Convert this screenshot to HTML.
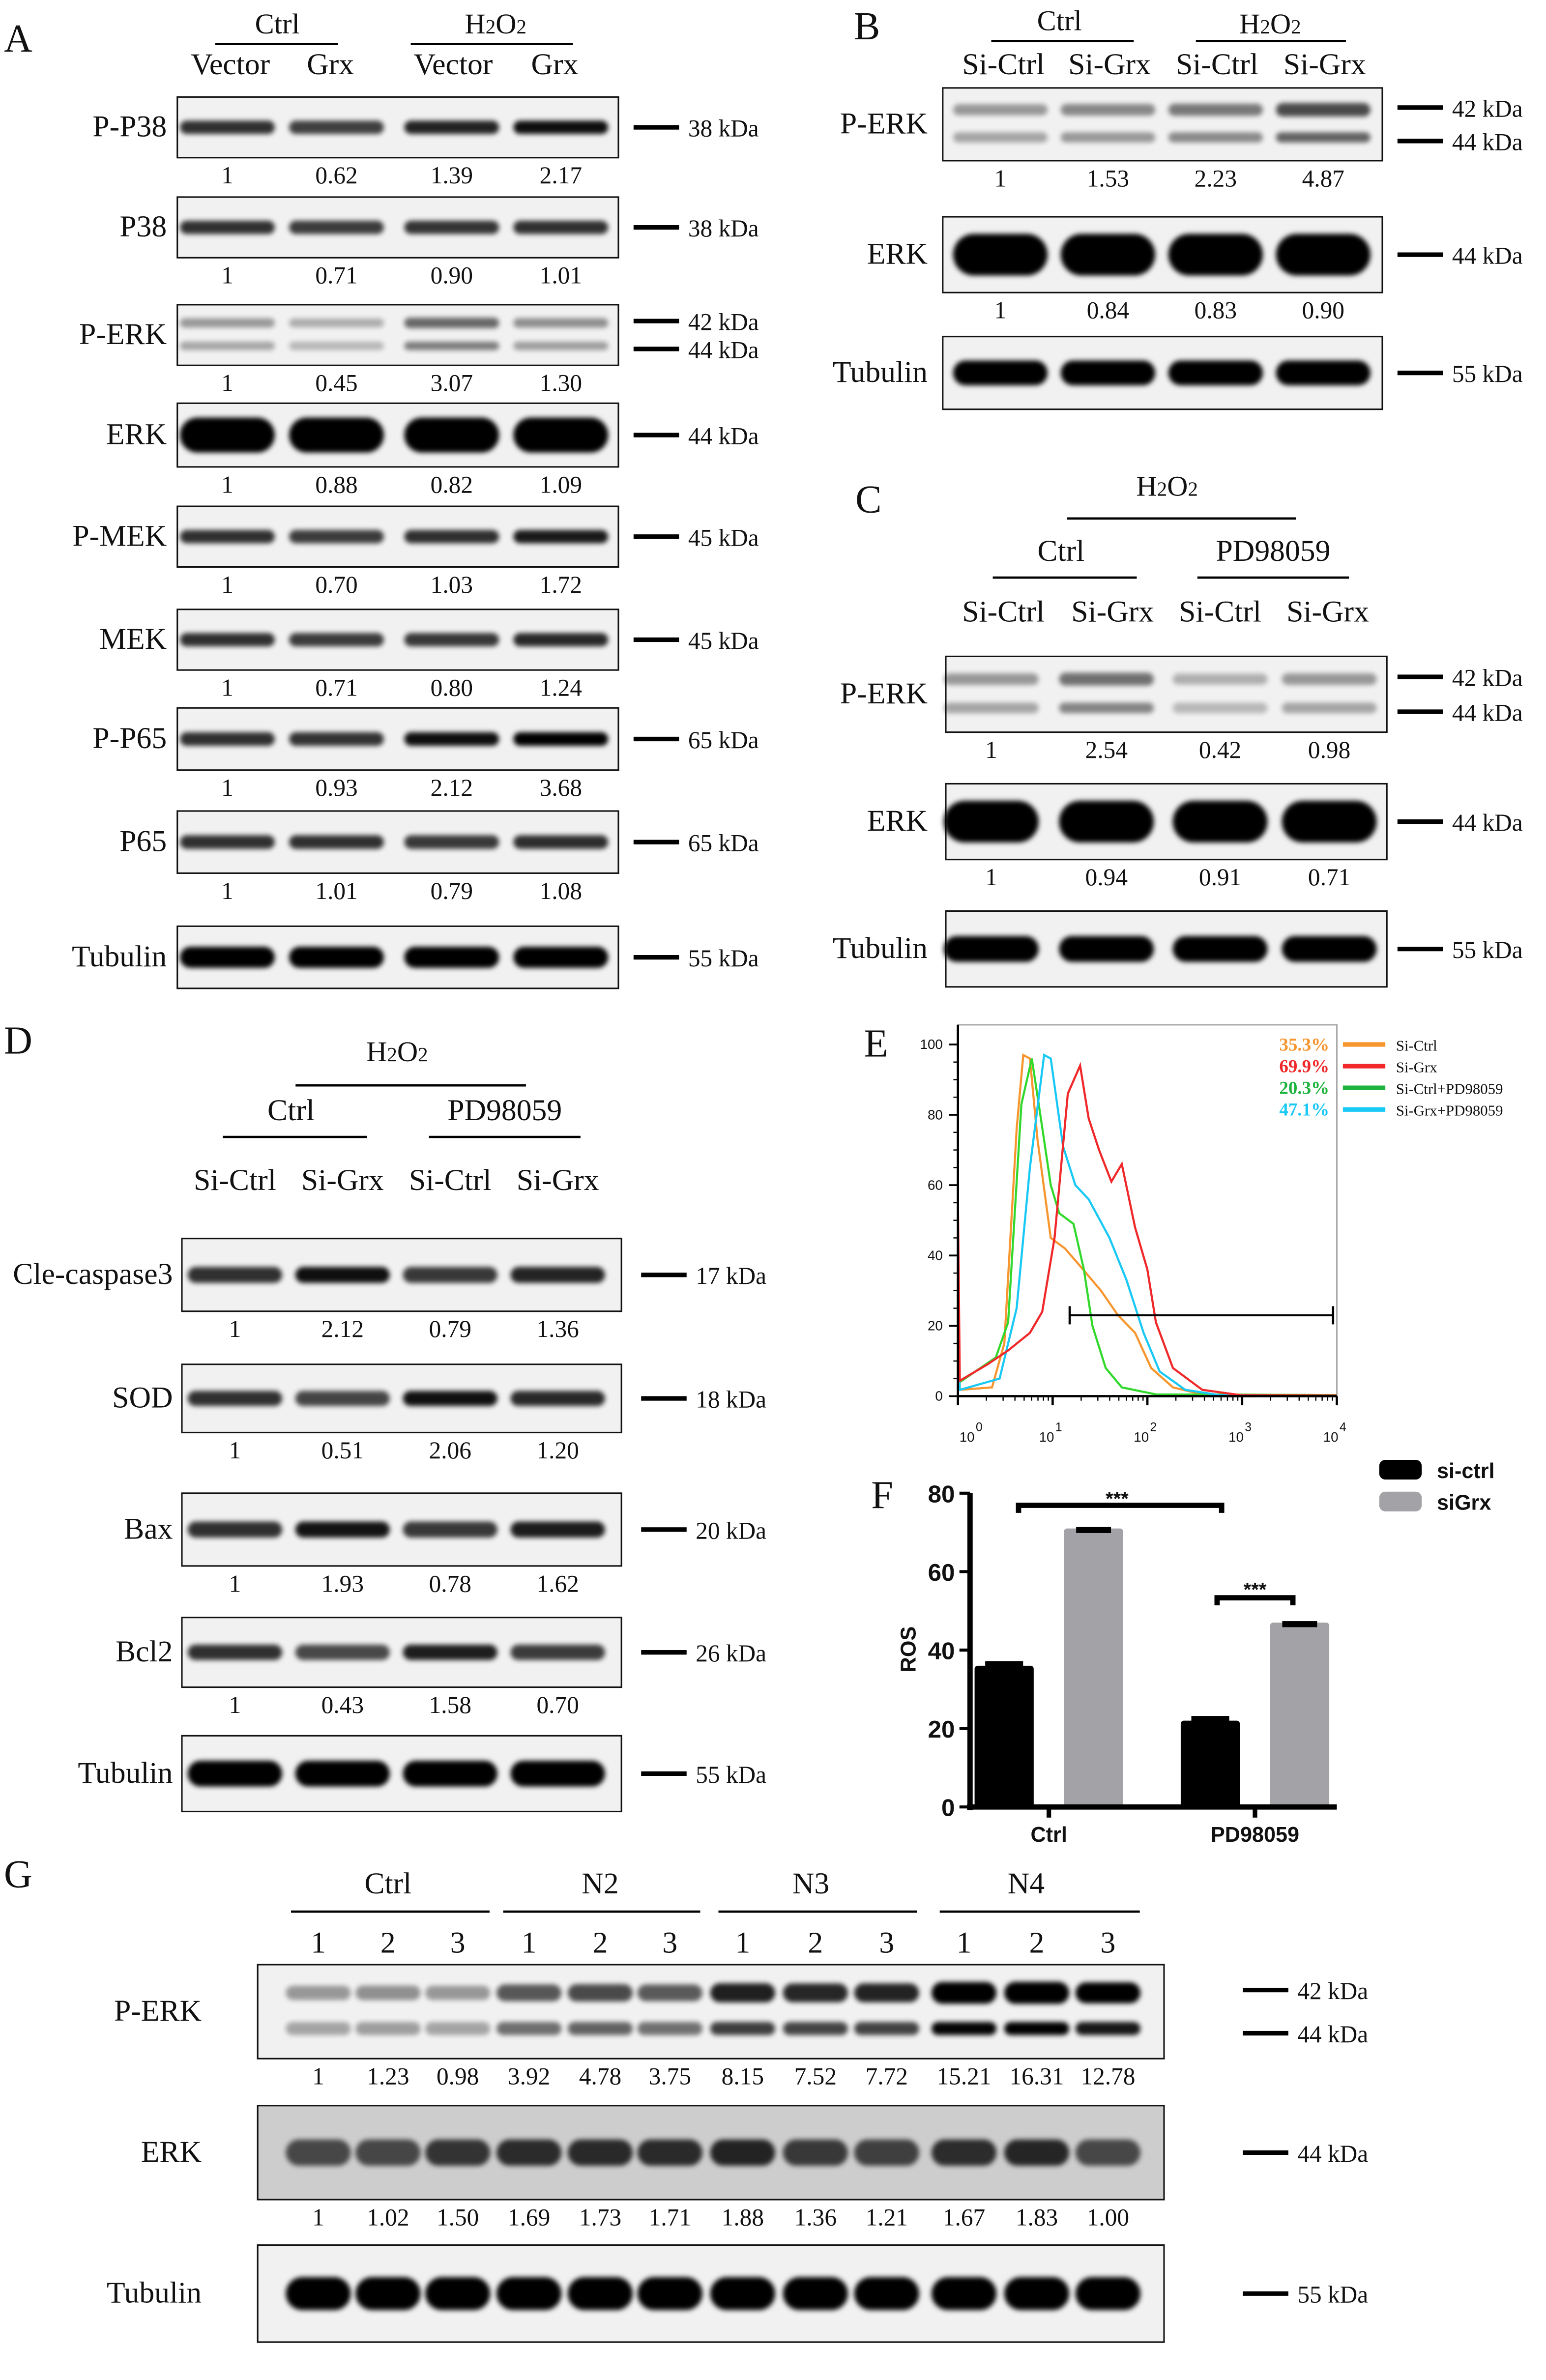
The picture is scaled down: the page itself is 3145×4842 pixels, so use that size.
<!DOCTYPE html>
<html><head><meta charset="utf-8"><style>
html,body{margin:0;padding:0;background:#fff}
svg{display:block}
text{font-family:"Liberation Serif",serif;fill:#111}
.sans{font-family:"Liberation Sans",sans-serif}
</style></head><body>
<svg id="fig" width="3145" height="4842" viewBox="0 0 1020 1570" preserveAspectRatio="none" xmlns="http://www.w3.org/2000/svg">
<defs><filter id="bl" x="-20%" y="-100%" width="140%" height="300%"><feGaussianBlur stdDeviation="1.6"/></filter></defs>
<g id="root"></g>
</svg>
<script>
// ---- data ----
const blotA=[["P-P38",64,104,[1,0.62,1.39,2.17],"38 kDa"],["P38",130,170,[1,0.71,0.90,1.01],"38 kDa"],["P-ERK",201,241,[1,0.45,3.07,1.30],"42 kDa|44 kDa"],["ERK",266,308,[1,0.88,0.82,1.09],"44 kDa"],["P-MEK",334,374,[1,0.70,1.03,1.72],"45 kDa"],["MEK",402,442,[1,0.71,0.80,1.24],"45 kDa"],["P-P65",467,508,[1,0.93,2.12,3.68],"65 kDa"],["P65",535,576,[1,1.01,0.79,1.08],"65 kDa"],["Tubulin",611,652,null,"55 kDa"]];
const blotB=[["P-ERK",58,106,[1,1.53,2.23,4.87],"42 kDa|44 kDa"],["ERK",143,193,[1,0.84,0.83,0.90],"44 kDa"],["Tubulin",222,270,null,"55 kDa"]];
const blotC=[["P-ERK",433,483,[1,2.54,0.42,0.98],"42 kDa|44 kDa"],["ERK",517,567,[1,0.94,0.91,0.71],"44 kDa"],["Tubulin",601,651,null,"55 kDa"]];
const blotD=[["Cle-caspase3",817,865,[1,2.12,0.79,1.36],"17 kDa"],["SOD",900,945,[1,0.51,2.06,1.20],"18 kDa"],["Bax",985,1033,[1,1.93,0.78,1.62],"20 kDa"],["Bcl2",1067,1113,[1,0.43,1.58,0.70],"26 kDa"],["Tubulin",1145,1195,null,"55 kDa"]];
const blotG=[["P-ERK",1296,1358,[1,1.23,0.98,3.92,4.78,3.75,8.15,7.52,7.72,15.21,16.31,12.78],"42 kDa|44 kDa"],["ERK",1389,1451,[1,1.02,1.50,1.69,1.73,1.71,1.88,1.36,1.21,1.67,1.83,1.00],"44 kDa"],["Tubulin",1481,1545,null,"55 kDa"]];
const histOrange=[[0,40],[0.02,1.8],[0.36,2.5],[0.49,15],[0.62,76],[0.69,97],[0.76,96],[0.84,73],[0.98,45],[1.13,42],[1.29,37],[1.51,30],[1.69,23],[1.87,18],[2.04,8],[2.27,2.5],[2.58,0.5],[4,0.3]];
const histGreen=[[0,30],[0.02,4],[0.4,11],[0.53,21],[0.67,83],[0.78,96],[0.87,80],[0.98,60],[1.07,52],[1.22,49],[1.33,36],[1.42,20],[1.56,8],[1.73,2.5],[2.09,0.5],[4,0.3]];
const histBlue=[[0,20],[0.02,1.8],[0.44,5],[0.62,25],[0.76,65],[0.91,97],[0.98,96],[1.11,71],[1.24,60],[1.38,56],[1.6,45],[1.78,33],[1.96,18],[2.13,7],[2.4,1.8],[2.76,0.3],[4,0.2]];
const histRed=[[0,55],[0.02,4.4],[0.31,9],[0.53,13],[0.76,18],[0.89,24],[1.02,45],[1.16,86],[1.29,94],[1.38,79],[1.49,70],[1.62,61],[1.73,66],[1.87,48],[2.0,36],[2.09,21],[2.27,8],[2.58,1.8],[2.98,0.3],[4,0.2]];
const rosCats=["Ctrl","PD98059"];
const rosSiCtrl=[36,22];
const rosSiGrx=[71,47];
const rosTicks=[0,20,40,60,80];
// ---- helpers ----
const NS="http://www.w3.org/2000/svg";const root=document.getElementById("root");
function el(t,a,p){const e=document.createElementNS(NS,t);for(const k in a)e.setAttribute(k,a[k]);(p||root).appendChild(e);return e;}
function tx(x,y,s,size,anchor,extra){const e=el("text",Object.assign({x:x,y:y,"font-size":size,"text-anchor":anchor||"middle"},extra||{}));e.textContent=s;

return e;}
function h2o2(x,y,size){const e=el("text",{x:x,y:y,"font-size":size,"text-anchor":"middle"});e.innerHTML='H<tspan font-size="'+(size*0.7)+'" dy="0">2</tspan>O<tspan font-size="'+(size*0.7)+'">2</tspan>';

}
function band(g,cx,cy,w,h,op){el("rect",{x:cx-w/2,y:cy-h/2,width:w,height:h,rx:h/2,fill:"#000",opacity:Math.min(1,op),filter:"url(#bl)"},g);}
function blot(rows,x0,x1,lanes,labX,kX,panel,numSize){
 rows.forEach((r,ri)=>{const [name,y0,y1,vals,kda]=r;const g=el("g",{});
 
 
 const gErk=(panel==="g"&&name==="ERK");
 el("rect",{x:x0,y:y0,width:x1-x0,height:y1-y0,fill:gErk?"#cdcdcd":"#f1f1f1",stroke:"#111","stroke-width":1},g);
 const h=y1-y0,lw=(x1-x0)/lanes.length*0.86;const dbl=kda.indexOf("|")>=0;
 lanes.forEach((lx,i)=>{let v=vals?vals[i]:3;const isTub=!vals;const isErk=name==="ERK";
  const op=0.5+0.3*Math.sqrt(v);
  if(dbl){const o=0.1+0.27*Math.sqrt(v);
   band(g,lx,y0+h*0.3,lw,h*0.18*(0.7+0.15*Math.sqrt(v)),o);
   band(g,lx,y0+h*0.68,lw,h*0.14,o*0.85);}
  else if(gErk) band(g,lx,y0+h*0.5,lw,h*0.28,0.45+0.2*v);
  else if(isErk) band(g,lx,y0+h*0.5,lw,h*0.55,1);
  else band(g,lx,y0+h*0.5,lw,isTub?h*0.34:h*0.22,isTub?1:op);
  if(vals){tx(lx,y1+17,i===0?"1":v.toFixed(2),numSize||16);}
 });
 tx(labX,y0+h/2+6,name,20,"end");
 const ks=kda.split("|");
 if(ks.length===1){el("rect",{x:kX,y:y0+h/2-1.5,width:30,height:3,fill:"#000"});tx(kX+36,y0+h/2+6,ks[0],16,"start");}
 else{el("rect",{x:kX,y:y0+h*0.27-1.5,width:30,height:3,fill:"#000"});tx(kX+36,y0+h*0.27+6,ks[0],16,"start");
  el("rect",{x:kX,y:y0+h*0.73-1.5,width:30,height:3,fill:"#000"});tx(kX+36,y0+h*0.73+6,ks[1],16,"start");}
 });}
[["A",12,34],["B",572,26],["C",573,338],["D",12,695],["E",578,697],["F",582,995],["G",12,1245]].forEach(p=>tx(p[1],p[2],p[0],26,"middle"));
function line(x1,y1,x2,y2,w){el("line",{x1:x1,y1:y1,x2:x2,y2:y2,stroke:"#000","stroke-width":w||1.5});}
// Panel A
tx(183,22,"Ctrl",19);line(142,29,223,29);h2o2(327,22,19);line(271,29,378,29);
["Vector","Grx","Vector","Grx"].forEach((s,i)=>tx([152,218,299,366][i],49,s,20));
blot(blotA,117,408,[150,222,298,370],110,418,"a");
// Panel B
tx(699,20,"Ctrl",19);line(654,27,748,27);h2o2(838,22,19);line(789,27,888,27);
["Si-Ctrl","Si-Grx","Si-Ctrl","Si-Grx"].forEach((s,i)=>tx([662,732,803,874][i],49,s,20));
blot(blotB,622,912,[660,731,802,873],612,922,"b");
// Panel C
h2o2(770,327,19);line(704,342,855,342);
tx(700,370,"Ctrl",20);line(655,381,750,381);tx(840,370,"PD98059",20);line(790,381,890,381);
["Si-Ctrl","Si-Grx","Si-Ctrl","Si-Grx"].forEach((s,i)=>tx([662,734,805,876][i],410,s,20));
blot(blotC,624,915,[654,730,805,877],612,922,"c");
// Panel D
h2o2(262,700,19);line(195,716,347,716);
tx(192,739,"Ctrl",20);line(147,750,242,750);tx(333,739,"PD98059",20);line(283,750,383,750);
["Si-Ctrl","Si-Grx","Si-Ctrl","Si-Grx"].forEach((s,i)=>tx([155,226,297,368][i],785,s,20));
blot(blotD,120,410,[155,226,297,368],114,423,"d");
// Panel G
[["Ctrl",256,192,323],["N2",396,332,462],["N3",535,474,605],["N4",677,620,752]].forEach(g=>{tx(g[1],1249,g[0],20);line(g[2],1261,g[3],1261);});
const gl=[210,256,302,349,396,442,490,538,585,636,684,731];
gl.forEach((x,i)=>tx(x,1288,String(i%3+1),20));
blot(blotG,170,768,gl,133,820,"g",16);
// ---- Panel E histogram ----
const ex0=632,ex1=882,ey0=921,ey1=689;
const xs=v=>ex0+(ex1-ex0)*v/4, ys=v=>ey0-(ey0-ey1)*v/100;
const eg=el("g",{});
el("rect",{x:ex0,y:676,width:ex1-ex0,height:ey0-676,fill:"none",stroke:"#aaa","stroke-width":1},eg);
line(ex0,676,ex0,ey0+1,1.5);line(ex0,ey0,ex1,ey0,1.5);
[0,20,40,60,80,100].forEach(v=>{line(ex0-6,ys(v),ex0,ys(v),1.2);tx(ex0-10,ys(v)+3,String(v),9,"end",{class:"sans"});});
for(let v=0;v<100;v+=5)line(ex0-3,ys(v),ex0,ys(v),0.8);
for(let d=0;d<=4;d++){line(xs(d),ey0,xs(d),ey0+6,1.5);tx(xs(d)+(d==0?6:-4),ey0+30,"10",9,"middle",{class:"sans"});
 tx(xs(d)+(d==0?14:4),ey0+23,String(d),8,"middle",{class:"sans"});
 if(d<4)for(let m=2;m<10;m++){const lx=xs(d+Math.log10(m));line(lx,ey0,lx,ey0+3,0.8);}}
function curve(data,col,nm){const p=el("polyline",{points:data.map(d=>xs(d[0])+","+ys(d[1])).join(" "),fill:"none",stroke:col,"stroke-width":1.4},eg);
}
curve(histOrange,"#f7962f","curve-si-ctrl");curve(histGreen,"#32d92c","curve-si-ctrl-pd98059");curve(histBlue,"#18c8f5","curve-si-grx-pd98059");curve(histRed,"#f0282a","curve-si-grx");
line(xs(1.18),ys(23),xs(3.96),ys(23),1.3);line(xs(1.18),ys(23)-6,xs(1.18),ys(23)+6,1.5);line(xs(3.96),ys(23)-6,xs(3.96),ys(23)+6,1.5);
[["35.3%","#f7962f","Si-Ctrl"],["69.9%","#f0282a","Si-Grx"],["20.3%","#1db33c","Si-Ctrl+PD98059"],["47.1%","#18c8f5","Si-Grx+PD98059"]].forEach((r,i)=>{const y=693+i*14.3;
 tx(877,y,r[0],12,"end",{style:"fill:"+r[1],"font-weight":"bold"});
 el("rect",{x:886,y:y-5.5,width:28,height:3,fill:r[1]});tx(921,y,r[2],10,"start");});
// ---- Panel F bar chart ----
const fx0=640,fx1=882,fy0=1192,fy1=985;
const fy=v=>fy0-(fy0-fy1)*v/80;
const fg=el("g",{});
rosTicks.forEach(v=>{line(fx0-7,fy(v),fx0,fy(v),2);tx(fx0-10,fy(v)+6,String(v),16,"end",{class:"sans","font-weight":"bold"});});
const cx=[692,828],bw=39;
rosCats.forEach((c,i)=>{
 const b1=el("rect",{x:cx[i]-bw-10,y:fy(rosSiCtrl[i]),width:bw,height:fy0-fy(rosSiCtrl[i]),fill:"#000",rx:2},fg);
 
 el("rect",{x:cx[i]-bw-10+7,y:fy(rosSiCtrl[i]+1.2),width:bw-14,height:4,fill:"#000"},fg);
 const b2=el("rect",{x:cx[i]+10,y:fy(rosSiGrx[i]),width:bw,height:fy0-fy(rosSiGrx[i]),fill:"#a3a3a7",rx:2},fg);
 
 el("rect",{x:cx[i]+18,y:fy(rosSiGrx[i])-1,width:bw-16,height:4,fill:"#000"},fg);
 line(cx[i],fy0,cx[i],fy0+7,3);
 tx(cx[i],fy0+23,c,14,"middle",{class:"sans","font-weight":"bold"});});
line(fx0,fy1,fx0,fy0+2,3.5);line(fx0-2,fy0,fx1,fy0,3.5);
tx(604,1088,"ROS",14,"middle",{class:"sans","font-weight":"bold",transform:"rotate(-90 604 1088)"});
el("path",{d:"M672,998 V993 H806 V998",fill:"none",stroke:"#000","stroke-width":3.5});tx(737,993,"***",13,"middle",{class:"sans","font-weight":"bold"});
el("path",{d:"M803,1059 V1054 H853 V1059",fill:"none",stroke:"#000","stroke-width":3.5});tx(828,1053,"***",13,"middle",{class:"sans","font-weight":"bold"});
el("rect",{x:910,y:963,width:28,height:13,fill:"#000",rx:4});tx(948,975,"si-ctrl",14,"start",{class:"sans","font-weight":"bold"});
el("rect",{x:910,y:984,width:28,height:13,fill:"#a3a3a7",rx:4});tx(948,996,"siGrx",14,"start",{class:"sans","font-weight":"bold"});
</script>
</body></html>
